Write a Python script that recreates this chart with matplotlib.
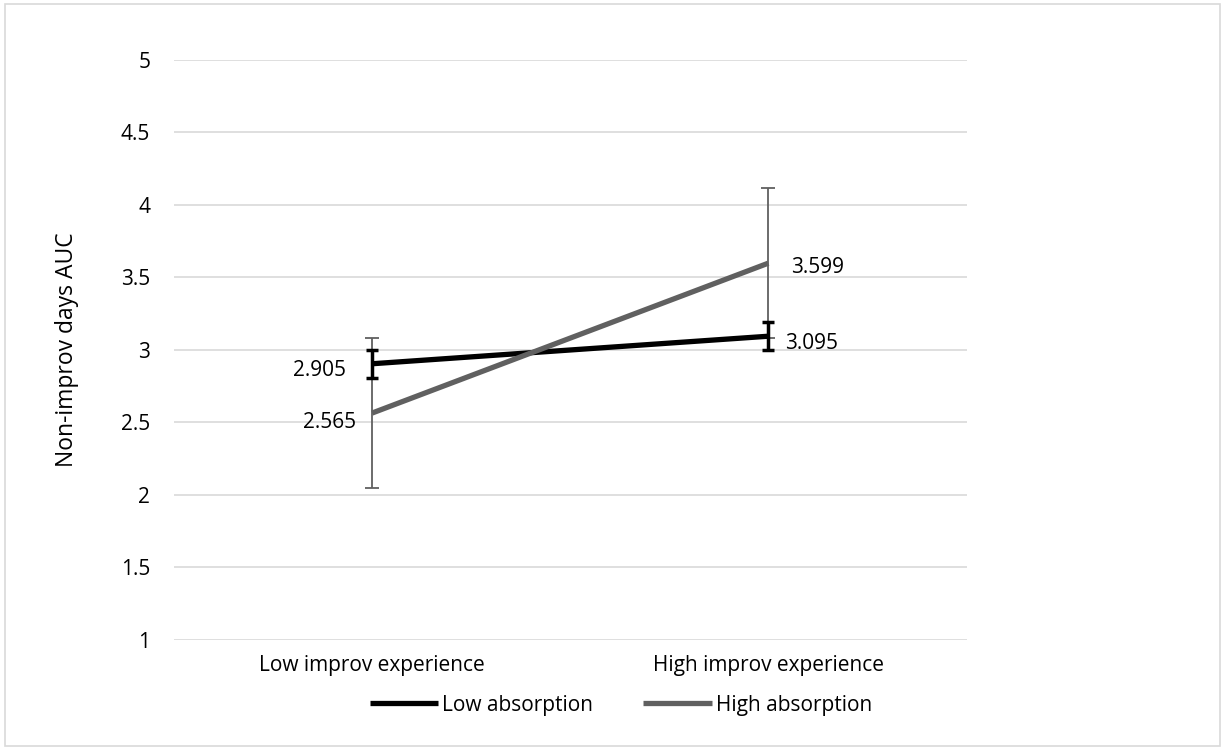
import matplotlib.pyplot as plt
from matplotlib.patches import Rectangle

plt.rcParams['font.family'] = ['Open Sans', 'DejaVu Sans']

# 数据
categories = ['Low improv experience', 'High improv experience']
low_abs = [2.905, 3.095]
high_abs = [2.565, 3.599]
low_err = [0.095, 0.097]
high_err = [0.52, 0.518]

fig = plt.figure(figsize=(12.25, 7.5), dpi=100)
ax = fig.add_axes([0.142, 0.1467, 0.647, 0.7733])

x = range(len(categories))

# 误差线
ax.errorbar(x, high_abs, yerr=high_err, fmt='none', ecolor='#606060',
            elinewidth=1.3, capsize=4.7, capthick=1.3, zorder=2)
ax.errorbar(x, low_abs, yerr=low_err, fmt='none', ecolor='black',
            elinewidth=2.5, capsize=4.3, capthick=2.5, zorder=2)

ax.plot(x, low_abs, color='black', lw=3.8, solid_capstyle='butt',
        label='Low absorption', zorder=3)
ax.plot(x, high_abs, color='#606060', lw=3.8, solid_capstyle='butt',
        label='High absorption', zorder=3)

fs = 15

# 数据标签
ax.annotate(f'{low_abs[0]}', (0, low_abs[0]), xytext=(-19, -4.5), textcoords='offset points',
            ha='right', va='center', fontsize=fs)
ax.annotate(f'{high_abs[0]}', (0, high_abs[0]), xytext=(-11.5, -7), textcoords='offset points',
            ha='right', va='center', fontsize=fs)
ax.annotate(f'{high_abs[1]}', (1, high_abs[1]), xytext=(16.5, -3.5), textcoords='offset points',
            ha='left', va='center', fontsize=fs)
ax.annotate(f'{low_abs[1]}', (1, low_abs[1]), xytext=(12, -5), textcoords='offset points',
            ha='left', va='center', fontsize=fs)

ax.set_xlim(-0.5, 1.5)
ax.set_ylim(1, 5)
ax.set_yticks([1, 1.5, 2, 2.5, 3, 3.5, 4, 4.5, 5])
ax.set_yticklabels(['1', '1.5', '2', '2.5', '3', '3.5', '4', '4.5', '5'])
ax.set_xticks(list(x))
ax.set_xticklabels(categories)
ax.tick_params(length=0, labelsize=fs)
ax.tick_params(axis='y', pad=17)
ax.tick_params(axis='x', pad=11)
ax.grid(axis='y', color='#d9d9d9', lw=1.2)
ax.set_axisbelow(True)
for s in ax.spines.values():
    s.set_visible(False)

ax.set_ylabel('Non-improv days AUC', fontsize=16.5, labelpad=30)

fig.legend(loc='center', bbox_to_anchor=(0.507, 0.06), ncol=2, frameon=False,
           fontsize=fs, handlelength=3.3, handletextpad=0.2, columnspacing=2.4)

# 外框
fig.patches.append(Rectangle((0.004, 0.005), 0.992, 0.99, transform=fig.transFigure,
                             fill=False, edgecolor='#d9d9d9', lw=1.2))

plt.savefig('out.png', dpi=100)
